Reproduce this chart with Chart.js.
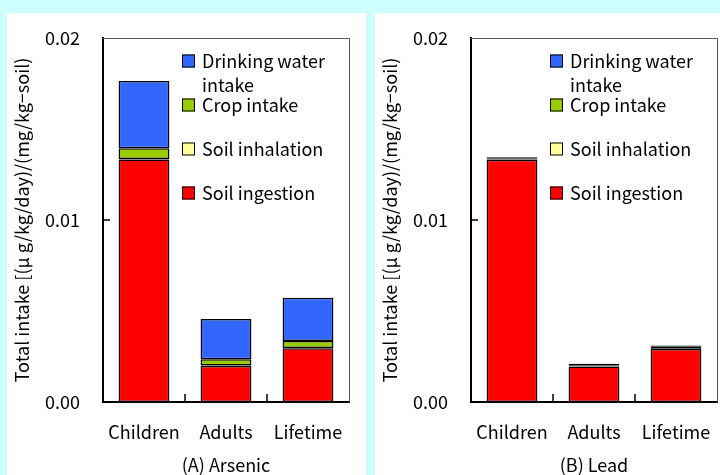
<!DOCTYPE html>
<html>
<head>
<meta charset="utf-8">
<script src="https://cdn.jsdelivr.net/npm/chart.js@4.4.1/dist/chart.umd.min.js"></script>
<style>
  html, body { margin: 0; padding: 0; background: #ccffff; width: 720px; height: 475px; overflow: hidden; }
  .panel { position: absolute; top: 13px; height: 462px; background: #ffffff; }
  #panelA { left: 7px; width: 359px; }
  #panelB { left: 375px; width: 345px; }
  canvas { display: block; }
</style>
</head>
<body>
<div class="panel" id="panelA"><canvas id="chartA" width="359" height="462"></canvas></div>
<div class="panel" id="panelB"><canvas id="chartB" width="345" height="462"></canvas></div>
<script>
// Exposure groups and intake pathways
const categories = ['Children', 'Adults', 'Lifetime'];
const seriesNames = ['Soil ingestion', 'Soil inhalation', 'Crop intake', 'Drinking water intake'];
const seriesColors = ['#ff0000', '#ffff99', '#99cc00', '#3366ff'];
const yTicks = [0, 0.01, 0.02];
const yTitle = 'Total intake [(μ g/kg/day)/(mg/kg−soil)';

// (A) Arsenic
const arsenicIngestion  = [0.01333, 0.00198, 0.00295];
const arsenicInhalation = [0.00002, 0.00002, 0.00002];
const arsenicCrop       = [0.00059, 0.00035, 0.00038];
const arsenicWater      = [0.00370, 0.00221, 0.00238];

// (B) Lead
const leadIngestion  = [0.01330, 0.00195, 0.00291];
const leadInhalation = [0.00002, 0.00001, 0.00002];
const leadCrop       = [0.00005, 0.00006, 0.00010];
const leadWater      = [0.00008, 0.00008, 0.00008];

const FONT = "'Noto Sans CJK JP', 'Noto Sans', sans-serif";
Chart.defaults.font.family = FONT;
Chart.defaults.color = '#000';

// Legend drawn inside the plot area, top item = last dataset
const innerLegend = {
  id: 'innerLegend',
  afterDraw(chart) {
    const { ctx, chartArea: a } = chart;
    const ds = chart.data.datasets.slice().reverse();
    ctx.save();
    ctx.font = '18px ' + FONT;
    ctx.textBaseline = 'middle';
    ctx.textAlign = 'left';
    ds.forEach((d, k) => {
      const cy = a.top + 23 + 44 * k;
      const bx = a.left + 79;
      ctx.fillStyle = d.backgroundColor;
      ctx.fillRect(bx, cy - 6.5, 13, 13);
      ctx.strokeStyle = '#000';
      ctx.lineWidth = 1;
      ctx.strokeRect(bx + 0.5, cy - 6, 12, 12);
      // wrap long labels to the space left of the right border
      const maxW = a.right - (a.left + 99) - 4;
      const words = d.label.split(' ');
      const lines = [];
      let cur = '';
      words.forEach(w => {
        const t = cur ? cur + ' ' + w : w;
        if (ctx.measureText(t).width > maxW && cur) { lines.push(cur); cur = w; }
        else cur = t;
      });
      lines.push(cur);
      ctx.fillStyle = '#000';
      lines.forEach((ln, i) => ctx.fillText(ln, a.left + 99, cy + 24 * i));
    });
    ctx.restore();
  }
};

// Frame and inward tick marks
const frame = {
  id: 'frame',
  afterDatasetsDraw(chart) {
    const { ctx, chartArea: a, scales } = chart;
    ctx.save();
    ctx.strokeStyle = '#555';
    ctx.lineWidth = 1;
    ctx.beginPath();
    ctx.moveTo(a.left, a.top + 0.5);
    ctx.lineTo(a.right + 0.5, a.top + 0.5);
    ctx.lineTo(a.right + 0.5, a.bottom);
    ctx.stroke();
    ctx.strokeStyle = '#000';
    ctx.lineWidth = 1.5;
    ctx.beginPath();
    scales.y.ticks.forEach(t => {
      if (t.value > scales.y.min && t.value < scales.y.max) {
        const y = Math.round(scales.y.getPixelForValue(t.value));
        ctx.moveTo(a.left, y);
        ctx.lineTo(a.left + 7, y);
      }
    });
    for (let i = 0; i < categories.length - 1; i++) {
      const x = Math.round((scales.x.getPixelForTick(i) + scales.x.getPixelForTick(i + 1)) / 2);
      ctx.moveTo(x, a.bottom);
      ctx.lineTo(x, a.bottom - 8);
    }
    ctx.stroke();
    ctx.restore();
  }
};

// keep the plot box fixed: no extra room reserved for edge labels
function zeroPadding(s) {
  s.paddingTop = 0; s.paddingBottom = 0; s.paddingLeft = 0; s.paddingRight = 0;
}

function makeChart(id, series, title, rightPad) {
  return new Chart(document.getElementById(id), {
    type: 'bar',
    data: {
      labels: categories,
      datasets: series.map((vals, i) => ({
        label: seriesNames[i],
        data: vals,
        backgroundColor: seriesColors[i],
        borderColor: '#000',
        borderWidth: 1.5,
        borderSkipped: false,
        categoryPercentage: 1,
        barPercentage: 0.62
      }))
    },
    options: {
      responsive: false,
      animation: false,
      devicePixelRatio: 1,
      layout: { padding: { top: 25, right: rightPad, bottom: 0, left: 0 } },
      plugins: { legend: { display: false }, tooltip: { enabled: false } },
      scales: {
        x: {
          stacked: true,
          grid: { display: false, drawTicks: false },
          border: { display: true, color: '#000', width: 2 },
          ticks: { font: { size: 18 }, padding: 19, color: '#000' },
          title: { display: true, text: title, font: { size: 18 }, color: '#000', padding: { top: 0, bottom: -1 } },
          afterFit: s => { s.height = 73; zeroPadding(s); }
        },
        y: {
          stacked: true,
          min: 0,
          max: 0.02,
          grid: { display: false, drawTicks: false },
          border: { display: true, color: '#000', width: 2 },
          afterBuildTicks: s => { s.ticks = yTicks.map(v => ({ value: v })); },
          ticks: { font: { size: 18 }, padding: 23, color: '#000', callback: v => v.toFixed(2) },
          title: { display: true, text: yTitle, font: { size: 18 }, color: '#000', padding: { top: 4, bottom: 0 } },
          afterFit: s => { s.width = 96; zeroPadding(s); }
        }
      }
    },
    plugins: [frame, innerLegend]
  });
}

makeChart('chartA', [arsenicIngestion, arsenicInhalation, arsenicCrop, arsenicWater], '(A) Arsenic', 17);
makeChart('chartB', [leadIngestion, leadInhalation, leadCrop, leadWater], '(B) Lead', 3);
</script>
</body>
</html>
